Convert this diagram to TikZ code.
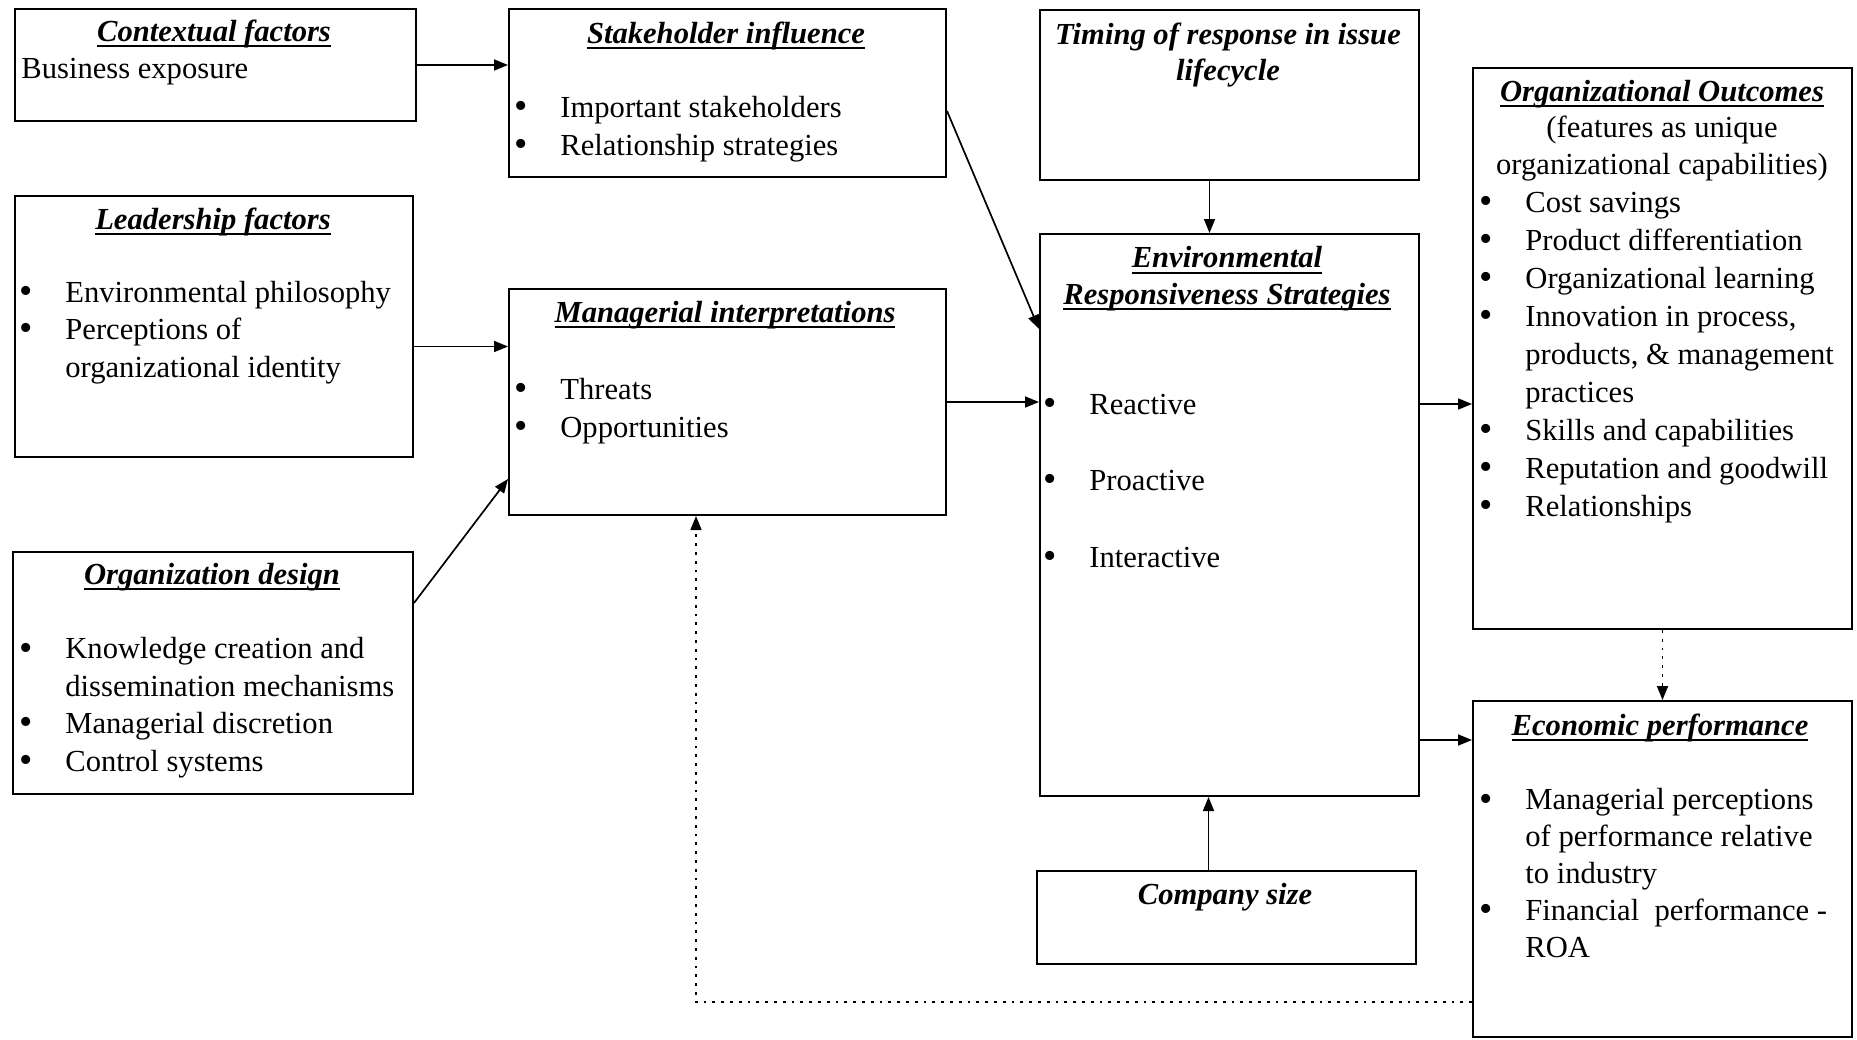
\documentclass[tikz,border=0pt]{standalone}
\usepackage{fontspec}
\setmainfont{Liberation Serif}
\usetikzlibrary{arrows.meta}

\newsavebox{\hdbox}
\newcommand{\hd}[1]{\sbox{\hdbox}{\textbf{\textit{#1}}}\leavevmode\rlap{\rule[-3pt]{\wd\hdbox}{0.9pt}}\usebox{\hdbox}}
\newcommand{\bul}{\makebox[23pt][l]{\raisebox{-0.6pt}{\fontsize{19}{19}\selectfont\textbullet}}}
\newcommand{\ind}{\hspace*{23pt}}

\tikzset{
  box/.style={draw, line width=1pt, anchor=north west, inner sep=0pt},
  txt/.style={inner sep=0pt, anchor=base west, align=left, font=\fontsize{15.3}{18.7}\selectfont},
  ttl/.style={inner sep=0pt, anchor=base, align=center, font=\fontsize{15.3}{18.2}\selectfont},
  bi/.style={font=\fontsize{15.3}{18}\selectfont\bfseries\itshape},
  arr/.style={line width=0.85pt, -{Triangle[length=7pt,width=5.5pt]}},
  dots/.style={line width=1.4pt, dash pattern=on 1.4pt off 3pt}
}

\begin{document}
\begin{tikzpicture}[x=0.5pt, y=-0.5pt]
\useasboundingbox (0,0) rectangle (1857,1039);

% boxes
\node[box, minimum width=200.5pt, minimum height=56pt] (ctx) at (14,8) {};
\node[box, minimum width=218.5pt, minimum height=84pt] (stk) at (508,8) {};
\node[box, minimum width=189.5pt, minimum height=85pt] (tim) at (1039,9) {};
\node[box, minimum width=189.5pt, minimum height=280.5pt] (out) at (1472,67) {};
\node[box, minimum width=199pt, minimum height=130.5pt] (lead) at (14,195) {};
\node[box, minimum width=218.5pt, minimum height=113pt] (mgr) at (508,288) {};
\node[box, minimum width=189.5pt, minimum height=281pt] (env) at (1039,233) {};
\node[box, minimum width=200pt, minimum height=121pt] (odes) at (12,551) {};
\node[box, minimum width=189.5pt, minimum height=46.5pt] (size) at (1036,870) {};
\node[box, minimum width=189.5pt, minimum height=168pt] (eco) at (1472,700) {};

% texts (multi-line nodes sit on the baseline of their last line)
\node[ttl] (ctxT) at (214,41) {\hd{Contextual factors}};
\node[txt] (ctxL) at (21,78) {Business exposure};

\node[ttl] (stkT) at (726,43) {\hd{Stakeholder influence}};
\node[txt, font=\fontsize{15.3}{19}\selectfont] (stkL) at (514,155) {\bul Important stakeholders\\ \bul Relationship strategies};

\node[ttl, bi] (timT) at (1228,80) {Timing of response in issue\\ lifecycle};

\node[ttl] (outT) at (1662,174) {\hd{Organizational Outcomes}\\ (features as unique\\ organizational capabilities)};
\node[txt, font=\fontsize{15.3}{19}\selectfont] (outL) at (1479,516) {\bul Cost savings\\ \bul Product differentiation\\ \bul Organizational learning\\ \bul Innovation in process,\\ \ind products, \& management\\ \ind practices\\ \bul Skills and capabilities\\ \bul Reputation and goodwill\\ \bul Relationships};

\node[ttl] (leadT) at (213,229) {\hd{Leadership factors}};
\node[txt] (leadL) at (19,377) {\bul Environmental philosophy\\ \bul Perceptions of\\ \ind organizational identity};

\node[ttl] (mgrT) at (725,322) {\hd{Managerial interpretations}};
\node[txt, font=\fontsize{15.3}{19}\selectfont] (mgrL) at (514,437) {\bul Threats\\ \bul Opportunities};

\node[ttl] (envT) at (1227,304) {\hd{Environmental}\\ \hd{Responsiveness Strategies}};
\node[txt] (envL) at (1043,567) {\bul Reactive\\[19.5pt] \bul Proactive\\[19.5pt] \bul Interactive};

\node[ttl] (odesT) at (212,584) {\hd{Organization design}};
\node[txt] (odesL) at (19,771) {\bul Knowledge creation and\\ \ind dissemination mechanisms\\ \bul Managerial discretion\\ \bul Control systems};

\node[ttl, bi] (sizeT) at (1225,904) {Company size};

\node[ttl] (ecoT) at (1660,735) {\hd{Economic performance}};
\node[txt, font=\fontsize{15.3}{18.4}\selectfont] (ecoL) at (1479,957) {\bul Managerial perceptions\\ \ind of performance relative\\ \ind to industry\\ \bul Financial~ performance -\\ \ind ROA};

% connectors
\draw[arr] (ctx.east) -- (ctx.east -| stk.west);
\draw[arr] ([yshift=-10pt]lead.east) -- ([yshift=-10pt]lead.east -| mgr.west);
\draw[arr] ([yshift=35pt]odes.east) -- ([yshift=-38.5pt]mgr.west);
\draw[arr] ([yshift=-9pt]stk.east) -- ([yshift=93pt]env.west);
\draw[arr] (mgr.east) -- (mgr.east -| env.west);
\draw[arr] ([xshift=-10pt]tim.south) -- ([xshift=-10pt]tim.south |- env.north);
\draw[arr] ([xshift=-9pt]size.north) -- ([xshift=-9pt]size.north |- env.south);
\draw[arr] ([yshift=55.5pt]env.east) -- ([yshift=55.5pt]env.east -| out.west);
\draw[arr] ([yshift=-112.5pt]env.east) -- ([yshift=-112.5pt]env.east -| eco.west);
\draw[dots, arr] (out.south) -- (eco.north);
\draw[dots, arr] ([yshift=-66.5pt]eco.west) -| ([xshift=-15.75pt]mgr.south);
\end{tikzpicture}
\end{document}
